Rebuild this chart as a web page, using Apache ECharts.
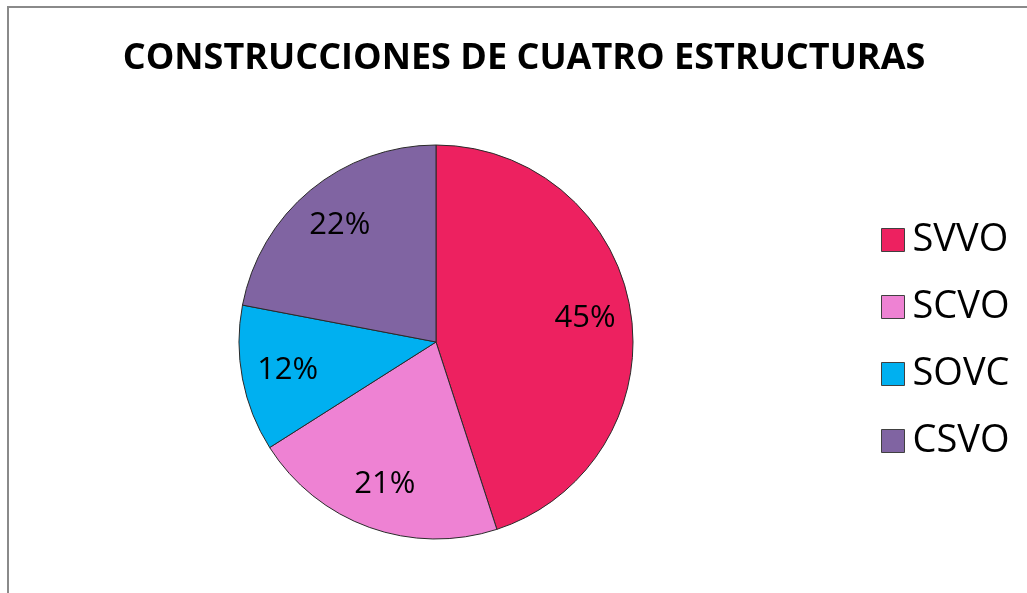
<!DOCTYPE html>
<html>
<head>
<meta charset="utf-8">
<script src="https://cdn.jsdelivr.net/npm/echarts@6/dist/echarts.min.js"></script>
<style>
  html, body { margin: 0; padding: 0; background: #fff; }
  #chart { width: 1027px; height: 593px; }
</style>
</head>
<body>
<div id="chart"></div>
<script>
// datos del gráfico
var categories = ["SVVO", "SCVO", "SOVC", "CSVO"];
var values = [45, 21, 12, 22];
var colors = ["#ED2160", "#EE82D3", "#00B0F0", "#8064A2"];

var chart = echarts.init(document.getElementById("chart"));

var pieData = categories.map(function (name, i) {
  return { name: name, value: values[i], itemStyle: { color: colors[i] } };
});

var option = {
  animation: false,
  backgroundColor: "#fff",
  title: {
    text: "CONSTRUCCIONES DE CUATRO ESTRUCTURAS",
    left: 519,
    top: 32,
    textAlign: "center",
    textStyle: {
      fontFamily: "Open Sans",
      fontWeight: "bold",
      fontSize: 36,
      lineHeight: 44,
      color: "#000"
    }
  },
  graphic: [
    {
      type: "rect",
      shape: { x: 8, y: 7, width: 1200, height: 800 },
      style: { fill: "none", stroke: "#8a8a8a", lineWidth: 2 },
      silent: true
    }
  ],
  legend: {
    orient: "vertical",
    left: 881,
    top: 218,
    padding: 0,
    itemWidth: 23,
    itemHeight: 23,
    itemGap: 23,
    icon: "rect",
    itemStyle: { borderColor: "#404040", borderWidth: 1 },
    textStyle: {
      fontFamily: "Open Sans",
      fontSize: 38,
      lineHeight: 44,
      color: "#000",
      padding: [0, 0, 0, 3]
    },
    data: categories
  },
  series: [
    {
      type: "pie",
      center: [436, 342],
      radius: [0, 197],
      startAngle: 90,
      clockwise: true,
      label: { show: false },
      labelLine: { show: false },
      itemStyle: { borderColor: "#2a2a2a", borderWidth: 1 },
      emphasis: { disabled: true },
      data: pieData
    },
    {
      // serie fantasma solo para las etiquetas
      type: "pie",
      center: [436, 342],
      radius: [99, 197],
      startAngle: 90,
      clockwise: true,
      silent: true,
      legendHoverLink: false,
      itemStyle: { color: "rgba(0,0,0,0)", borderWidth: 0 },
      label: {
        show: true,
        position: "inside",
        formatter: "{d}%",
        fontFamily: "Open Sans",
        fontSize: 31,
        color: "#000"
      },
      labelLine: { show: false },
      emphasis: { disabled: true },
      data: categories.map(function (name, i) {
        return { name: name + " ", value: values[i] };
      })
    }
  ]
};

chart.setOption(option);
window.addEventListener("resize", function () {
  chart.resize();
});
</script>
</body>
</html>
